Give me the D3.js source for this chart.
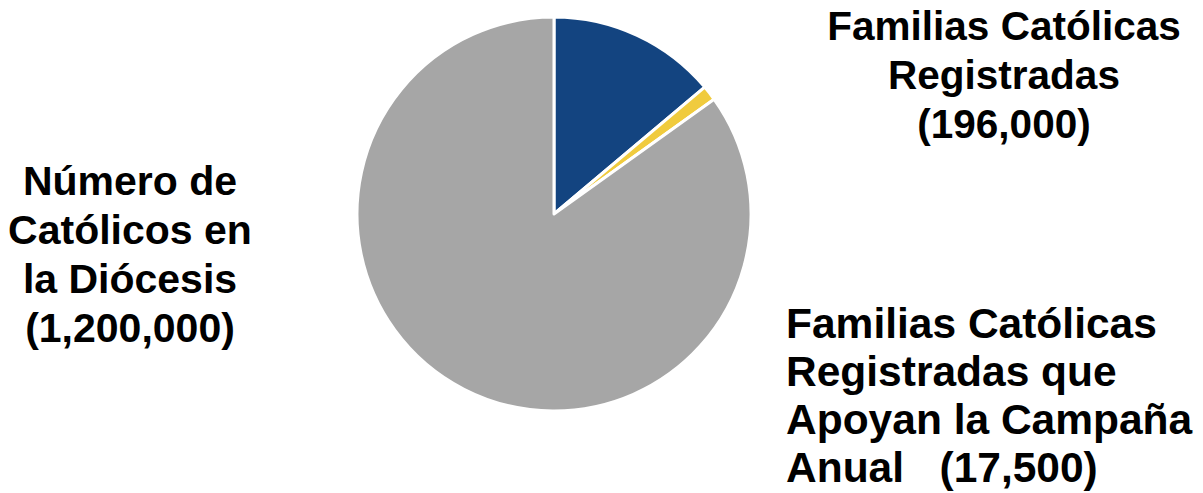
<!DOCTYPE html>
<html>
<head>
<meta charset="utf-8">
<script src="https://cdn.jsdelivr.net/npm/d3@7"></script>
<style>
html,body{margin:0;padding:0;background:#fff;}
text{font-family:"Liberation Sans",Arial,sans-serif;font-weight:bold;fill:#000;white-space:pre;}
</style>
</head>
<body>
<svg id="chart" width="1203" height="493"></svg>
<script>
const categories = ["Familias Católicas Registradas", "Familias Católicas Registradas que Apoyan la Campaña Anual", "Número de Católicos en la Diócesis"];
const values = [196000, 17500, 1200000];
const colors = ["#134480", "#F0CB3E", "#A6A6A6"];
const labelLines = [
  ["Familias Católicas", "Registradas", "(196,000)"],
  ["Familias Católicas", "Registradas que", "Apoyan la Campaña", "Anual   (17,500)"],
  ["Número de", "Católicos en", "la Diócesis", "(1,200,000)"]
];

const svg = d3.select("#chart");
const cx = 554, cy = 214, r = 197;
const pie = d3.pie().sort(null).value(d => d)(values);
const arc = d3.arc().innerRadius(0).outerRadius(r);
const g = svg.append("g").attr("transform", `translate(${cx},${cy})`);
g.selectAll("path").data(pie).join("path")
  .attr("d", arc)
  .attr("fill", (d,i) => colors[i])
  .attr("stroke", "#fff")
  .attr("stroke-width", 3)
  .attr("stroke-linejoin", "round");

const labelPos = [
  {x: 1004, y: 40, anchor: "middle", size: 40.5, lh: 49},
  {x: 786, y: 338, anchor: "start", size: 42.5, lh: 48},
  {x: 130, y: 195, anchor: "middle", size: 41, lh: 49}
];
labelLines.forEach((lines, i) => {
  const p = labelPos[i];
  const t = svg.append("text")
    .attr("text-anchor", p.anchor)
    .attr("font-size", p.size);
  lines.forEach((l, j) => {
    t.append("tspan").attr("x", p.x).attr("y", p.y + j * p.lh).text(l);
  });
});
</script>
</body>
</html>
